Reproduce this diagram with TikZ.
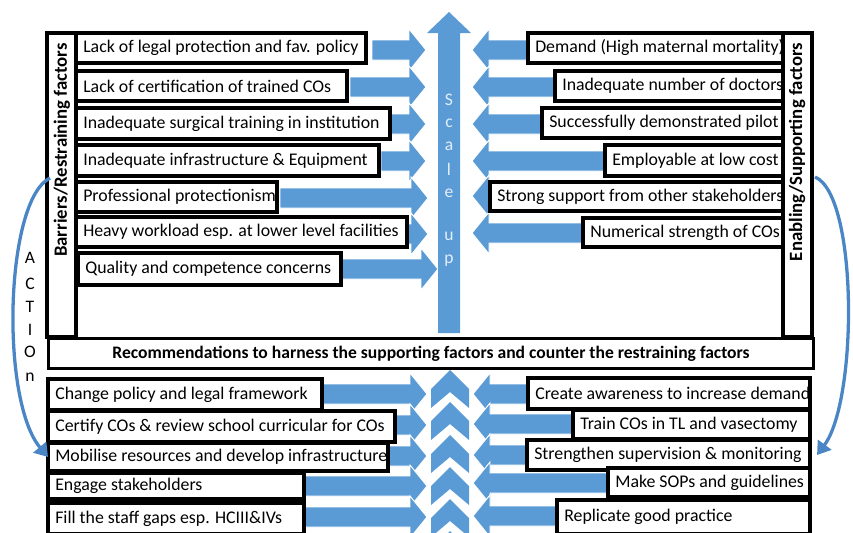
\documentclass[tikz,border=0pt]{standalone}
\usepackage{fontspec}
\setmainfont{Carlito}
\usepackage{tikz}
\usetikzlibrary{arrows.meta}
\definecolor{ScaleBlue}{HTML}{5B9BD5}
\definecolor{CurveBlue}{HTML}{4A86C5}
\definecolor{PaleBlue}{HTML}{E4EEF8}

\tikzset{
  factor/.style={draw, line width=2.6pt, fill=white, inner sep=0pt, outer sep=0pt, anchor=north west},
  ftext/.style={font=\fontsize{15.2}{17}\selectfont, inner sep=0pt, anchor=west},
  frame/.style={draw, line width=2.6pt, fill=white},
  pushr/.style={fill=ScaleBlue, draw=white, line width=0.8pt},
  letter/.style={font=\fontsize{15}{17}\selectfont},
  curve/.style={CurveBlue, line width=2.8pt, -{Triangle[length=11pt, width=14pt]}}
}

\begin{document}
\begin{tikzpicture}[x=0.03cm, y=-0.03cm]
  \useasboundingbox (0,0) rectangle (853,532);
  \clip (0,0) rectangle (853,532);

  % forces pushing in from both sides
  \foreach \xs/\xt/\y in {372/426/50, 350/426/87, 391/426/124, 381/426/161, 280/428/198, 408/428/234, 342/438/269,
                          322/427/394, 395/427/425, 388/427/456, 304/427/486, 304/427/517}
    \draw[pushr] (\xs,\y-10) -- (\xt-17,\y-10) -- (\xt-17,\y-21) -- (\xt,\y) -- (\xt-17,\y+21) -- (\xt-17,\y+10) -- (\xs,\y+10) -- cycle;
  \foreach \xs/\xt/\y in {530/472/50, 556/472/87, 544/472/124, 606/472/161, 492/472/196, 585/472/233,
                          530/473/394, 575/473/424, 529/473/455, 610/473/483, 559/473/516}
    \draw[pushr] (\xs,\y-10) -- (\xt+17,\y-10) -- (\xt+17,\y-21) -- (\xt,\y) -- (\xt+17,\y+21) -- (\xt+17,\y+10) -- (\xs,\y+10) -- cycle;

  % scale up arrow and chevrons
  \fill[ScaleBlue] (438,333) -- (438,33) -- (427,33) -- (449,12) -- (471,33) -- (460,33) -- (460,333) -- cycle;
  \foreach \l/\y in {S/100, c/123, a/146, l/169, e/193, u/236, p/261}
    \node[letter, PaleBlue] at (449,\y) {\l};
  \foreach \y in {370,402,435,467,499,531}
    \fill[ScaleBlue] (431,\y+19) -- (450,\y) -- (469,\y+19) -- (469,\y+38) -- (450,\y+22) -- (431,\y+38) -- cycle;

  % factor boxes
  \foreach \n/\xa/\xb/\ya/\yb/\txt in {
      b1/76/366/33/63/{Lack of legal protection and fav. policy},
      b2/76/347/71/101/{Lack of certification of trained COs},
      b3/76/390/108/139/{Inadequate surgical training in institution},
      b4/76/379/145/176/{Inadequate infrastructure \& Equipment},
      b5/76/277/182/212/{Professional protectionism},
      b6/76/407/217/247/{Heavy workload esp. at lower level facilities},
      b7/78/341/253/285/{Quality and competence concerns},
      e1/528/783/33/63/{Demand (High maternal mortality)},
      e2/555/783/71/101/{Inadequate number of doctors},
      e3/542/783/108/138/{Successfully demonstrated pilot},
      e4/605/783/145/176/{Employable at low cost},
      e5/490/783/182/211/{Strong support from other stakeholders},
      e6/583/783/218/247/{Numerical strength of COs},
      r1/48/322/379/410/{Change policy and legal framework},
      r2/48/395/411/442/{Certify COs \& review school curricular for COs},
      r3/48/388/443/471/{Mobilise resources and develop infrastructure},
      r4/48/304/473/499/{Engage stakeholders},
      r5/48/304/503/534/{Fill the staff gaps esp. HCIII\&IVs},
      s1/528/810/378/409/{Create awareness to increase demand},
      s2/573/810/410/439/{Train COs in TL and vasectomy},
      s3/527/810/440/470/{Strengthen supervision \& monitoring},
      s4/608/810/468/497/{Make SOPs and guidelines},
      s5/557/810/500/534/{Replicate good practice}} {
    \node[factor, minimum width={(\xb-\xa)*0.03cm}, minimum height={(\yb-\ya)*0.03cm}] (\n) at (\xa,\ya) {};
    \begin{scope}
      \clip ([xshift=1.3pt]\n.south west) rectangle ([xshift=-1.3pt]\n.north east);
      \node[ftext] at ([xshift=6pt]\n.west) {\txt};
    \end{scope}
  }

  % side frames
  \draw[frame] (47,33) rectangle (76,337);
  \draw[frame] (783,33) rectangle (812,337);
  \node[rotate=90, font=\bfseries\fontsize{16}{18}\selectfont] (barr) at (62,150) {Barriers/Restraining factors};
  \node[rotate=90, font=\bfseries\fontsize{16}{18}\selectfont] (enab) at (797,152) {Enabling/Supporting factors};
  \node[frame, minimum width=765*0.03cm, minimum height=30*0.03cm, anchor=north west, inner sep=0pt,
        font=\bfseries\fontsize{15}{17}\selectfont] (recom) at (47,337)
        {Recommendations to harness the supporting factors and counter the restraining factors};

  % action loop
  \coordinate (lstart) at (50,178);
  \coordinate (rstart) at (815,177);
  \draw[curve] (lstart) .. controls (5,200) and (0,400) .. (r3.west);
  \draw[curve] (rstart) .. controls (858,195) and (858,400) .. ([xshift=6pt]s3.east);
  \foreach \l/\y in {A/258, C/284, T/307, I/330, O/352, n/377}
    \node[letter] at (30,\y) {\l};
\end{tikzpicture}
\end{document}
